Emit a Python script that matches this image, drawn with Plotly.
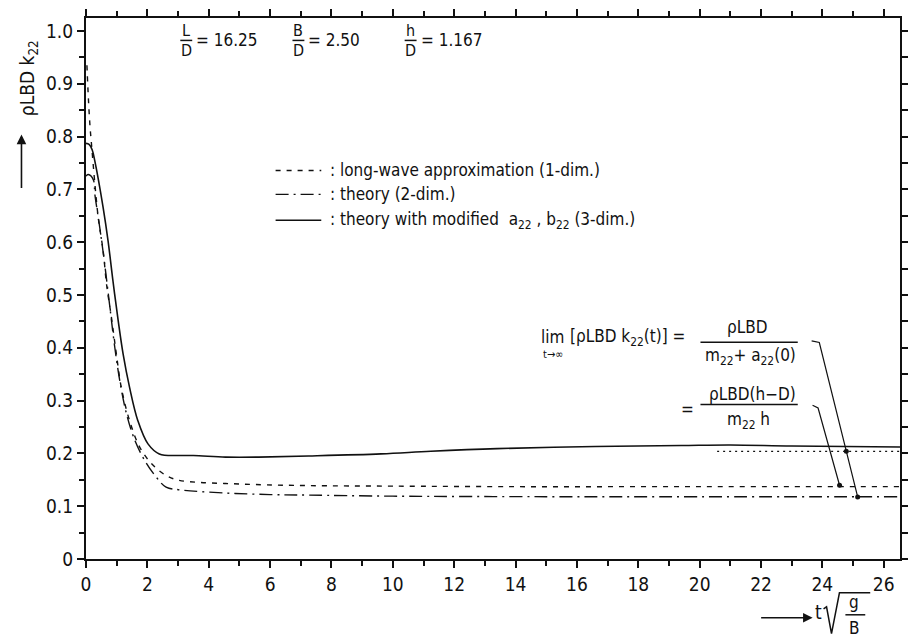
import plotly.graph_objects as go

# ---- data ----
x_long = [0.03, 0.08, 0.13, 0.18, 0.29, 0.40, 0.56, 0.67, 0.83, 0.99, 1.15, 1.42, 1.75, 2.13, 2.61, 3.04,
          3.7, 4.55, 5.5, 7.25, 10, 14, 18, 22, 26.53]
y_long = [0.935, 0.87, 0.82, 0.785, 0.71, 0.646, 0.583, 0.52, 0.457, 0.388, 0.325, 0.262, 0.212, 0.181, 0.158,
          0.149, 0.145, 0.143, 0.141, 0.139, 0.138, 0.137, 0.137, 0.137, 0.137]

x_2d = [0, 0.075, 0.24, 0.29, 0.45, 0.61, 0.78, 0.94, 1.10, 1.32, 1.59, 1.91, 2.29, 2.61, 3.04, 4.55, 6,
        7.25, 10, 15, 20, 26.53]
y_2d = [0.725, 0.728, 0.718, 0.69, 0.627, 0.558, 0.476, 0.40, 0.338, 0.275, 0.225, 0.187, 0.155, 0.136,
        0.131, 0.125, 0.122, 0.121, 0.119, 0.118, 0.118, 0.118]

x_3d = [0, 0.1, 0.2, 0.29, 0.56, 0.72, 0.88, 1.05, 1.21, 1.42, 1.69, 2.02, 2.39, 3.04, 3.5, 4.55, 5.63,
        7.25, 9.62, 11.24, 13.4, 16.6, 19.4, 21, 23, 26.53]
y_3d = [0.787, 0.785, 0.775, 0.753, 0.665, 0.602, 0.526, 0.451, 0.388, 0.325, 0.262, 0.218, 0.199, 0.196,
        0.196, 0.193, 0.193, 0.195, 0.199, 0.204, 0.209, 0.213, 0.215, 0.216, 0.214, 0.212]

x_limit = [20.57, 26.53]
y_limit = [0.204, 0.204]

# pointer lines of the limit formulas
x_ptr1 = [23.65, 23.9, 25.15]
y_ptr1 = [0.413, 0.41, 0.1175]
x_ptr2 = [23.68, 23.86, 24.56]
y_ptr2 = [0.291, 0.286, 0.1396]
x_dot = [24.78]
y_dot = [0.204]

x_ticks = list(range(0, 27, 2))
y_ticks = [0, 0.1, 0.2, 0.3, 0.4, 0.5, 0.6, 0.7, 0.8, 0.9, 1.0]
y_ticktext = ["0", "0.1", "0.2", "0.3", "0.4", "0.5", "0.6", "0.7", "0.8", "0.9", "1.0"]
x_range = [0, 26.53]
y_range = [0, 1.0245]

FONT = "Liberation Sans Narrow, DejaVu Sans Condensed, Roboto, sans-serif"
BLK = "#111111"

W, H = 917, 639
L, R, T, B = 86, 11, 16, 80


def P(xp, yp):
    """pixel -> paper coordinates"""
    return (xp - L) / (W - L - R), (H - B - yp) / (H - T - B)


fig = go.Figure()
fig.add_trace(go.Scatter(x=x_long, y=y_long, mode="lines", line=dict(color=BLK, width=1.4, dash="5px,6px", shape="spline"),
                         showlegend=False))
fig.add_trace(go.Scatter(x=x_2d, y=y_2d, mode="lines", line=dict(color=BLK, width=1.4, dash="13px,5px,2px,5px", shape="spline"),
                         showlegend=False))
fig.add_trace(go.Scatter(x=x_3d, y=y_3d, mode="lines", line=dict(color=BLK, width=1.6, shape="spline"),
                         showlegend=False))
fig.add_trace(go.Scatter(x=x_limit, y=y_limit, mode="lines", line=dict(color=BLK, width=1.3, dash="2px,4px"),
                         showlegend=False))
for xs, ys in ((x_ptr1, y_ptr1), (x_ptr2, y_ptr2)):
    fig.add_trace(go.Scatter(x=xs, y=ys, mode="lines", line=dict(color=BLK, width=1.2), showlegend=False))
    fig.add_trace(go.Scatter(x=[xs[-1]], y=[ys[-1]], mode="markers", marker=dict(color=BLK, size=5), showlegend=False))
fig.add_trace(go.Scatter(x=x_dot, y=y_dot, mode="markers", marker=dict(color=BLK, size=5), showlegend=False))
# invisible trace to carry the top / right tick axes
fig.add_trace(go.Scatter(x=x_range, y=y_range, xaxis="x2", yaxis="y2", mode="markers",
                         marker=dict(opacity=0), hoverinfo="skip", showlegend=False))

shapes = []
annotations = []


def text(xp, yp, s, size=17, xanchor="center", **kw):
    px, py = P(xp, yp)
    annotations.append(dict(x=px, y=py, xref="paper", yref="paper", text=s, showarrow=False,
                            xanchor=xanchor, yanchor="middle", font=dict(family=FONT, size=size, color=BLK), **kw))


def hline(x0, x1, yp, width=1.5, dash=None):
    a, b_ = P(x0, yp)
    c, _ = P(x1, yp)
    ln = dict(color=BLK, width=width)
    if dash:
        ln["dash"] = dash
    shapes.append(dict(type="line", xref="paper", yref="paper", x0=a, x1=c, y0=b_, y1=b_, line=ln))


# parameters
for cx, num, val in ((187, "L", "= 16.25"), (300, "B", "= 2.50"), (413, "h", "= 1.167")):
    text(cx, 28.5, num, 16)
    hline(cx - 6, cx + 6, 38.5)
    text(cx, 48.5, "D", 16)
    text(cx + 8, 38, val, 17, xanchor="left")

# legend
rows = [(169, "5px,6px", ": long-wave approximation (1-dim.)"),
        (193, "13px,5px,2px,5px", ": theory (2-dim.)"),
        (219, None, ": theory with modified  a<sub>22</sub> , b<sub>22</sub> (3-dim.)")]
for yp, dsh, s in rows:
    hline(277, 323, yp, width=1.4, dash=dsh)
    text(330, yp, s, 17, xanchor="left")

# limit formulas
text(556, 336, "lim", 17)
text(556, 354, "t→∞", 11)
text(572, 337, "[ρLBD k<sub>22</sub>(t)] =", 17, xanchor="left")
text(752, 326, "ρLBD", 17)
hline(705, 803, 341.5)
text(755, 356, "m<sub>22</sub>+ a<sub>22</sub>(0)", 17)
text(692, 408, "=", 17)
text(757, 393, "ρLBD(h−D)", 17)
hline(705, 803, 404)
text(753, 420, "m<sub>22</sub> h", 17)

# y-axis title with arrow
px_, py_ = P(28, 76)
annotations.append(dict(x=px_, y=py_, xref="paper", yref="paper", text="ρLBD k<sub>22</sub>", textangle=-90,
                        xanchor="center", yanchor="middle",
                        showarrow=False, font=dict(family=FONT, size=19, color=BLK)))
hx, hy = P(21, 133)
annotations.append(dict(x=hx, y=hy, xref="paper", yref="paper", text="", showarrow=True, ax=0, ay=55,
                        arrowhead=2, arrowsize=1.2, arrowwidth=1.6, arrowcolor=BLK))

# x-axis title with arrow
hx, hy = P(818, 618)
annotations.append(dict(x=hx, y=hy, xref="paper", yref="paper", text="", showarrow=True, ax=-53, ay=0,
                        arrowhead=2, arrowsize=1.2, arrowwidth=1.6, arrowcolor=BLK))
text(824, 612, "t", 19)
pts = [P(829, 609), P(832, 607), P(837, 634), P(845, 593), P(876, 593)]
path = "M " + " L ".join(f"{a},{b_}" for a, b_ in pts)
shapes.append(dict(type="path", xref="paper", yref="paper", path=path, line=dict(color=BLK, width=1.5)))
text(860, 602, "g", 17)
hline(851, 871, 615)
text(860, 628, "B", 17)

axis_common = dict(showgrid=False, zeroline=False, showline=True, linewidth=2, linecolor=BLK,
                   ticks="outside", ticklen=7, tickwidth=2, tickcolor=BLK)

fig.update_layout(
    width=W, height=H, margin=dict(l=L, r=R, t=T, b=B),
    paper_bgcolor="white", plot_bgcolor="white",
    shapes=shapes, annotations=annotations,
    font=dict(family=FONT, size=18, color=BLK),
    xaxis=dict(range=x_range, tickvals=x_ticks, **axis_common,
               minor=dict(dtick=1, tick0=0, ticks="outside", ticklen=5, tickwidth=1.5, tickcolor=BLK),
               tickfont=dict(family=FONT, size=19, color=BLK)),
    yaxis=dict(range=y_range, tickvals=y_ticks, ticktext=y_ticktext, **axis_common,
               minor=dict(dtick=0.05, tick0=0, ticks="outside", ticklen=5, tickwidth=1.5, tickcolor=BLK),
               tickfont=dict(family=FONT, size=19, color=BLK)),
    xaxis2=dict(range=x_range, overlaying="x", side="top", anchor="y2", tickvals=x_ticks,
                showticklabels=False, **axis_common,
                minor=dict(dtick=1, tick0=0, ticks="outside", ticklen=5, tickwidth=1.5, tickcolor=BLK)),
    yaxis2=dict(range=y_range, overlaying="y", side="right", anchor="x2", dtick=0.05, tick0=0,
                showticklabels=False, **{**axis_common, "ticklen": 6, "tickwidth": 1.5}),
)

fig.write_html("out.html")
